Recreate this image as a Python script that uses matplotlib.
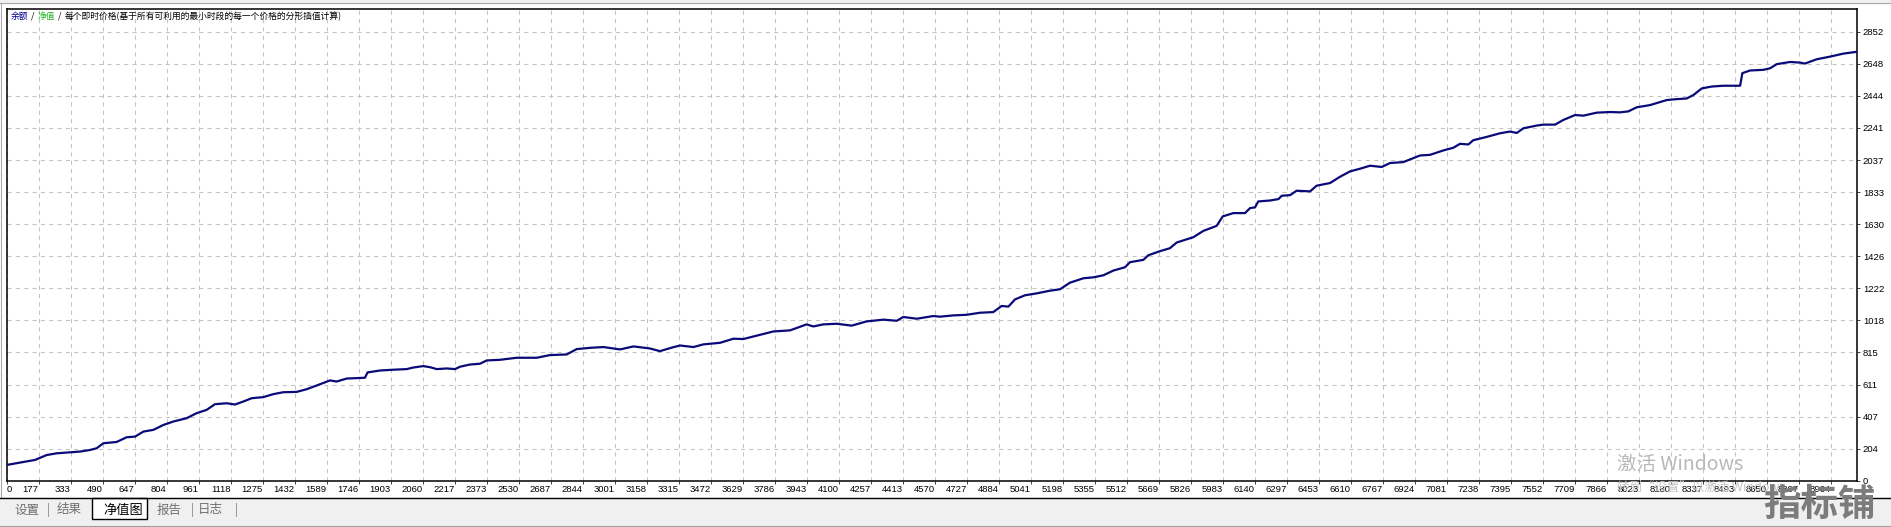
import matplotlib
matplotlib.use("Agg")
import matplotlib.pyplot as plt
from matplotlib import font_manager
from matplotlib.patches import Rectangle
from matplotlib.lines import Line2D

# equity curve (trade number, equity)
trade_index = [0, 65, 139, 196, 245, 310, 359, 408, 441, 474, 539, 588, 629, 670, 719, 768, 817, 882, 931, 980,
               1021, 1078, 1119, 1160, 1201, 1258, 1307, 1356, 1421, 1470, 1520, 1585, 1617, 1667, 1756, 1769, 1830,
               1895, 1961, 1993, 2042, 2075, 2108, 2157, 2198, 2222, 2271, 2320,
               2353, 2418, 2500, 2598, 2663, 2745, 2794, 2859, 2925, 3006, 3072, 3153, 3202, 3251, 3300, 3366, 3415,
               3497, 3562, 3611, 3676, 3758, 3840, 3921, 3954, 4003, 4068, 4142, 4215, 4297, 4363, 4395, 4461, 4542,
               4575, 4640, 4706, 4771, 4836, 4877, 4910, 4943, 4992, 5049, 5114, 5163, 5212, 5278, 5327, 5376, 5425,
               5482, 5506, 5572, 5596, 5653, 5702, 5735, 5817, 5866, 5931, 5961, 6013, 6070, 6095, 6119, 6135, 6193,
               6234, 6250, 6291, 6323, 6389, 6421, 6487, 6536, 6585, 6634, 6683, 6740, 6781, 6846,
               6879, 6928, 6977, 7042, 7091, 7124, 7165, 7189, 7255, 7320, 7369, 7402, 7435, 7500, 7533, 7590, 7631,
               7688, 7729, 7794, 7859, 7908, 7949, 7990, 8055, 8088, 8137, 8186, 8235, 8268, 8309, 8358, 8415, 8497,
               8508, 8546, 8611, 8644, 8676, 8742, 8791, 8815, 8872, 8938, 9003, 9065]
equity = [100, 115, 132, 163, 174, 180, 185, 195, 206, 238, 246, 276, 280, 312, 323, 354, 376, 397, 429, 450,
          486, 492, 484, 503, 524, 531, 550, 562, 564, 581, 605, 637, 630, 649, 654, 688, 700,
          705, 709, 719, 728, 721, 709, 713, 709, 724, 738, 743,
          764, 768, 781, 781, 798, 802, 836, 844, 849, 834, 853, 840, 823, 842, 859, 849, 866,
          876, 902, 900, 921, 948, 955, 993, 980, 993, 997, 985, 1012, 1023, 1016, 1040, 1029, 1046,
          1042, 1050, 1054, 1067, 1071, 1110, 1106, 1152, 1178, 1190, 1207, 1216, 1258, 1286, 1292, 1305, 1335,
          1356, 1388, 1403, 1432, 1458, 1477, 1513, 1547, 1587, 1619, 1679, 1700, 1700, 1732, 1736, 1774, 1780,
          1789, 1810, 1814, 1842, 1838, 1874, 1891, 1931, 1965, 1982, 2001, 1993, 2018, 2024,
          2041, 2066, 2070, 2098, 2115, 2140, 2136, 2163, 2184, 2207, 2218, 2209, 2239, 2256, 2262, 2262, 2292,
          2323, 2319, 2338, 2342, 2340, 2346, 2372, 2386, 2399, 2418, 2424, 2428, 2450, 2492, 2504, 2509, 2509,
          2589, 2606, 2610, 2620, 2646, 2660, 2656, 2650, 2677, 2694, 2713, 2724]

x_tick_labels = ["0", "177", "333", "490", "647", "804", "961", "1118", "1275", "1432", "1589", "1746", "1903",
                 "2060", "2217", "2373", "2530", "2687", "2844", "3001", "3158", "3315", "3472", "3629", "3786",
                 "3943", "4100", "4257", "4413", "4570", "4727", "4884", "5041", "5198", "5355", "5512", "5669",
                 "5826", "5983", "6140", "6297", "6453", "6610", "6767", "6924", "7081", "7238", "7395", "7552",
                 "7709", "7866", "8023", "8180", "8337", "8493", "8650", "8807", "8964"]
y_ticks = [0, 204, 407, 611, 815, 1018, 1222, 1426, 1630, 1833, 2037, 2241, 2444, 2648, 2852]
tabs = ["设置", "结果", "净值图", "报告", "日志"]

W, H = 1891, 527
fig = plt.figure(figsize=(W / 100, H / 100), dpi=100, facecolor="white")


def fx(px):
    return px / W


def fy(py):
    return 1 - py / H


names = {f.name for f in font_manager.fontManager.ttflist}
if "Liberation Sans Narrow" in names:
    num_font, num_size = "Liberation Sans Narrow", 8
else:
    num_font, num_size = "Liberation Sans", 6.8
cjk = ["Noto Sans CJK SC", "DejaVu Sans"]

left, right, top, bottom = 6.7, 1856.7, 9.3, 480.7
ax = fig.add_axes([fx(left), fy(bottom), (right - left) / W, (bottom - top) / H])
ax.plot(trade_index, equity, color="#0a0a78", lw=1.6, zorder=3)

x_step = 156.86  # one grid cell = 32 px
ax.set_xlim(0, (right - left) / 32 * x_step)
ax.set_ylim(0, 2852 * 1.05)
ax.set_xticks([i * x_step for i in range(len(x_tick_labels))])
ax.set_xticklabels(x_tick_labels, fontfamily=num_font, fontsize=num_size)
for i, lab in enumerate(ax.get_xticklabels()):
    lab.set_horizontalalignment("left" if i == 0 else "right")
ax.yaxis.tick_right()
ax.set_yticks(y_ticks)
ax.set_yticklabels([str(v) for v in y_ticks], fontfamily=num_font, fontsize=num_size)
ax.tick_params(axis="x", direction="out", length=2.2, width=0.7, pad=0.8, color="#404040")
ax.tick_params(axis="y", direction="out", length=2.2, width=0.7, pad=2.2, color="#404040")
ax.grid(True, color="#c4c4c4", linestyle=(0, (4, 4)), linewidth=0.75)
ax.set_axisbelow(True)
for s in ax.spines.values():
    s.set_linewidth(1.1)
    s.set_color("black")

# legend-like title inside the chart
fig.text(fx(11), fy(16.5), "余额", color="#000090", fontsize=6.3, family=cjk, va="center")
fig.text(fx(31), fy(16.5), "/", color="black", fontsize=6.3, family=cjk, va="center")
fig.text(fx(38), fy(16.5), "净值", color="#22b422", fontsize=6.3, family=cjk, va="center")
fig.text(fx(57.5), fy(16.5), "/", color="black", fontsize=6.3, family=cjk, va="center")
fig.text(fx(65), fy(16.5), "每个即时价格(基于所有可利用的最小时段的每一个价格的分形插值计算)",
         color="black", fontsize=6.3, family=cjk, va="center")

# window frame and tab bar
fig.add_artist(Rectangle((0, fy(3)), 1, 3 / H, transform=fig.transFigure, color="#f0f0f0", zorder=0))
fig.add_artist(Line2D([0, 1], [fy(3), fy(3)], transform=fig.transFigure, color="#a8a8a8", lw=0.8))
fig.add_artist(Line2D([fx(1), fx(1)], [fy(3), fy(498)], transform=fig.transFigure, color="#a8a8a8", lw=0.8))
fig.add_artist(Rectangle((0, 0), 1, fy(498.3), transform=fig.transFigure, color="#f0f0f0", zorder=0))
fig.add_artist(Line2D([0, 1], [fy(498.3), fy(498.3)], transform=fig.transFigure, color="black", lw=1.0))
fig.add_artist(Line2D([0, 1], [fy(525.5), fy(525.5)], transform=fig.transFigure, color="#a0a0a0", lw=0.8))
fig.add_artist(Rectangle((fx(92.3), fy(519.3)), (147.3 - 92.3) / W, (519.3 - 498.3) / H,
                         transform=fig.transFigure, facecolor="white", edgecolor="black", lw=1.0, zorder=1))

tab_x = [26.7, 69, 123, 169, 210]
for name, x in zip(tabs, tab_x):
    active = name == "净值图"
    fig.text(fx(x), fy(510), name, ha="center", va="center", family=cjk,
             fontsize=9.5 if active else 9, color="black" if active else "#707070", zorder=2)
for x in [48.3, 192, 236]:
    fig.text(fx(x), fy(510), "|", ha="center", va="center", family=cjk, fontsize=9, color="#808080")

# overlays present on the screenshot
fig.text(fx(1617), fy(465), "激活 Windows", family=cjk, fontsize=14, color="#b8b8b8",
         va="center", ha="left", zorder=10)
fig.text(fx(1617), fy(487), "转到“设置”以激活 Windows。", family=cjk, fontsize=9, color="#c4c4c4",
         va="center", ha="left", zorder=10)
fig.text(fx(1763), fy(504), "指标铺", family=cjk, fontsize=27, fontweight="bold", color="#7c7c7c",
         va="center", ha="left", zorder=11)

fig.savefig("out.png", dpi=100, facecolor="white")
